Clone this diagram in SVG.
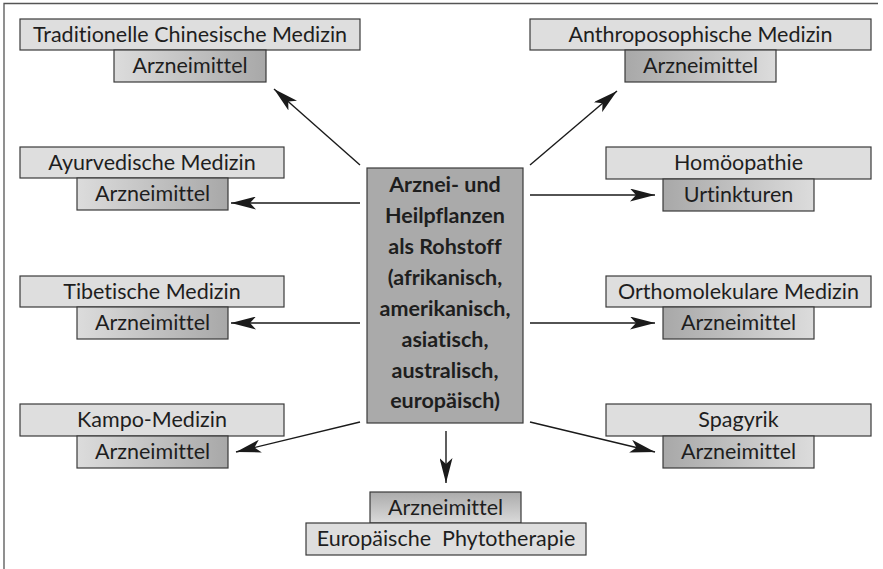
<svg xmlns="http://www.w3.org/2000/svg" width="883" height="569" viewBox="0 0 883 569">
<style>
.frame{fill:none;stroke:#555;stroke-width:1.3}
.outer{fill:#dedede;stroke:#3a3a3a;stroke-width:1.2}
.inner{stroke:#3a3a3a;stroke-width:1.2}
.center{fill:#aaaaaa;stroke:#3a3a3a;stroke-width:1.2}
text{font-family:Lato,"Liberation Sans",sans-serif;font-size:21.5px;fill:#1e1e1e;text-anchor:middle;font-variant-ligatures:none;white-space:pre}
.bold{font-weight:bold;font-size:21.5px}
.conn line{stroke:#1a1a1a;stroke-width:1.4;marker-end:url(#ah)}
</style>
<defs>
<linearGradient id="gL" x1="0" y1="0" x2="1" y2="0"><stop offset="0" stop-color="#dcdcdc"/><stop offset="1" stop-color="#a8a8a8"/></linearGradient>
<linearGradient id="gR" x1="0" y1="0" x2="1" y2="0"><stop offset="0" stop-color="#a8a8a8"/><stop offset="1" stop-color="#dcdcdc"/></linearGradient>
<linearGradient id="gB" x1="0" y1="0" x2="0" y2="1"><stop offset="0" stop-color="#ababab"/><stop offset="1" stop-color="#dadada"/></linearGradient>
<marker id="ah" viewBox="0 0 25 13" refX="25" refY="6.5" markerWidth="25" markerHeight="13" markerUnits="userSpaceOnUse" orient="auto"><path d="M0,0 L25,6.5 L0,13 L6,6.5 Z" fill="#1a1a1a"/></marker>
</defs>
<rect width="883" height="569" fill="#fff"/>
<path class="frame" d="M4,569 V3.5 H878"/>

<g id="center">
<rect class="center" x="367" y="168" width="156" height="255"/>
<text class="bold" x="445" y="192">Arznei- und</text>
<text class="bold" x="445" y="223">Heilpflanzen</text>
<text class="bold" x="445" y="254">als Rohstoff</text>
<text class="bold" x="445" y="285">(afrikanisch,</text>
<text class="bold" x="445" y="316">amerikanisch,</text>
<text class="bold" x="445" y="347">asiatisch,</text>
<text class="bold" x="445" y="378">australisch,</text>
<text class="bold" x="445" y="408">europäisch)</text>
</g>

<g id="tcm">
<rect class="outer" x="20" y="19" width="340" height="31"/>
<text x="190" y="42">Traditionelle Chinesische Medizin</text>
<rect class="inner" fill="url(#gL)" x="114" y="50" width="152" height="32"/>
<text x="190" y="73">Arzneimittel</text>
</g>

<g id="anthro">
<rect class="outer" x="530" y="19" width="341" height="31"/>
<text x="700.5" y="42">Anthroposophische Medizin</text>
<rect class="inner" fill="url(#gR)" x="625" y="50" width="151" height="32"/>
<text x="700.5" y="73">Arzneimittel</text>
</g>

<g id="ayur">
<rect class="outer" x="20" y="147" width="264" height="31"/>
<text x="152" y="170">Ayurvedische Medizin</text>
<rect class="inner" fill="url(#gL)" x="77" y="178" width="151" height="32"/>
<text x="152.5" y="201">Arzneimittel</text>
</g>

<g id="tibet">
<rect class="outer" x="20" y="276" width="264" height="31"/>
<text x="152" y="299">Tibetische Medizin</text>
<rect class="inner" fill="url(#gL)" x="77" y="307" width="151" height="32"/>
<text x="152.5" y="330">Arzneimittel</text>
</g>

<g id="kampo">
<rect class="outer" x="20" y="404" width="264" height="32"/>
<text x="152" y="427">Kampo-Medizin</text>
<rect class="inner" fill="url(#gL)" x="77" y="436" width="151" height="32"/>
<text x="152.5" y="459">Arzneimittel</text>
</g>

<g id="homoeo">
<rect class="outer" x="606" y="147" width="265" height="32"/>
<text x="738.5" y="170">Homöopathie</text>
<rect class="inner" fill="url(#gR)" x="663" y="179" width="151" height="32"/>
<text x="738.5" y="202">Urtinkturen</text>
</g>

<g id="ortho">
<rect class="outer" x="606" y="276" width="265" height="31"/>
<text x="738.5" y="299">Orthomolekulare Medizin</text>
<rect class="inner" fill="url(#gR)" x="663" y="307" width="151" height="32"/>
<text x="738.5" y="330">Arzneimittel</text>
</g>

<g id="spagyrik">
<rect class="outer" x="606" y="404" width="265" height="32"/>
<text x="738.5" y="427">Spagyrik</text>
<rect class="inner" fill="url(#gR)" x="663" y="436" width="151" height="32"/>
<text x="738.5" y="459">Arzneimittel</text>
</g>

<g id="europa">
<rect class="inner" fill="url(#gB)" x="370" y="492" width="151" height="31"/>
<text x="445.5" y="515">Arzneimittel</text>
<rect class="outer" x="306" y="523" width="280" height="32"/>
<text x="446" y="546" xml:space="preserve">Europäische  Phytotherapie</text>
</g>

<g id="connectors" class="conn">
<line x1="360" y1="165" x2="274" y2="89"/>
<line x1="530" y1="165" x2="617" y2="91"/>
<line x1="360" y1="203" x2="231" y2="203"/>
<line x1="360" y1="323" x2="231" y2="323"/>
<line x1="530" y1="195" x2="655" y2="195"/>
<line x1="530" y1="323" x2="655" y2="323"/>
<line x1="360" y1="422" x2="236" y2="452"/>
<line x1="530" y1="422" x2="655" y2="452"/>
<line x1="446" y1="431" x2="446" y2="483"/>
</g>
</svg>
